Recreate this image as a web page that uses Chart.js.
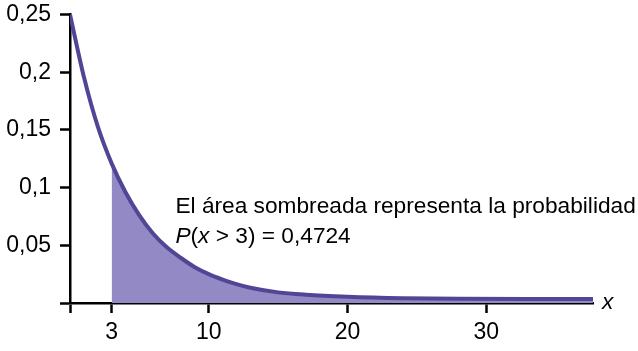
<!DOCTYPE html>
<html>
<head>
<meta charset="utf-8">
<script src="https://cdn.jsdelivr.net/npm/chart.js@4.4.0/dist/chart.umd.min.js"></script>
<style>
    html, body { margin: 0; padding: 0; background: #fff; }
    #wrap { width: 638px; height: 351px; }
</style>
</head>
<body>
<div id="wrap"><canvas id="chart"></canvas></div>
<script>
// values
const xs = [0, 1, 2, 3, 4, 5, 6, 7, 8, 9, 10, 11, 12, 13, 15, 17, 20, 24, 28, 33, 37.7];
const density = [0.25, 0.196, 0.153, 0.121, 0.096, 0.076, 0.060, 0.048, 0.039, 0.031, 0.025,
    0.0203, 0.0163, 0.0132, 0.0092, 0.0072, 0.0055, 0.0042, 0.0036, 0.0035, 0.0035];
const shadeFrom = 3;
const xTicks = [0, 3, 10, 20, 30];
const yTicks = [0, 0.05, 0.1, 0.15, 0.2, 0.25];
const note = ['El área sombreada representa la probabilidad', 'P(x > 3) = 0,4724'];

const curve = xs.map((x, i) => ({ x: x, y: density[i] }));
const shaded = curve.filter(p => p.x >= shadeFrom);

const fmt = v => String(v).replace('.', ',');
const family = '"Liberation Sans", Arial, sans-serif';
const font = { family: family, size: 23 };

const textPlugin = {
    id: 'notes',
    afterDraw(chart) {
        const ctx = chart.ctx;
        const sx = chart.scales.x;
        const sy = chart.scales.y;
        ctx.save();
        ctx.fillStyle = '#000';
        ctx.textBaseline = 'alphabetic';
        const left = sx.getPixelForValue(7.6);
        ctx.font = '22.7px ' + family;
        ctx.fillText(note[0], left, sy.getPixelForValue(0.078));
        // second line, P and x in italics
        const y2 = sy.getPixelForValue(0.052);
        let cx = left;
        const parts = [['P', true], ['(', false], ['x', true], [' > 3) = 0,4724', false]];
        parts.forEach(([t, it]) => {
            ctx.font = (it ? 'italic ' : '') + '22.7px ' + family;
            ctx.fillText(t, cx, y2);
            cx += ctx.measureText(t).width;
        });
        ctx.font = 'italic 22.7px ' + family;
        ctx.fillText('x', chart.chartArea.right + 9, sy.getPixelForValue(0) + 6);
        ctx.restore();
    }
};

new Chart(document.getElementById('chart'), {
    type: 'line',
    data: {
        datasets: [
            {
                data: curve,
                borderColor: 'rgb(80, 70, 150)',
                borderWidth: 4,
                fill: false,
                cubicInterpolationMode: 'monotone',
                pointRadius: 0,
                order: 0
            },
            {
                data: shaded,
                borderWidth: 0,
                backgroundColor: 'rgb(147, 137, 197)',
                fill: 'origin',
                cubicInterpolationMode: 'monotone',
                pointRadius: 0,
                order: 1
            }
        ]
    },
    options: {
        responsive: true,
        maintainAspectRatio: false,
        animation: false,
        layout: { padding: { top: 14.5, right: 45, left: 0, bottom: 0 } },
        plugins: { legend: { display: false }, tooltip: { enabled: false } },
        scales: {
            x: {
                type: 'linear',
                min: 0,
                max: 37.7,
                afterBuildTicks: s => { s.ticks = xTicks.map(v => ({ value: v })); },
                afterFit: s => { s.height = 48; s.paddingLeft = 0; s.paddingRight = 0; },
                border: { display: true, color: '#000', width: 2.5 },
                grid: { drawOnChartArea: false, tickLength: 10, tickColor: '#000', tickWidth: 2.5 },
                ticks: {
                    color: '#000', font: font, padding: 6, maxRotation: 0,
                    callback: v => v === 0 ? '' : String(v)
                }
            },
            y: {
                min: 0,
                max: 0.25,
                afterBuildTicks: s => { s.ticks = yTicks.map(v => ({ value: v })); },
                afterFit: s => { s.width = 70; s.paddingTop = 0; s.paddingBottom = 0; },
                border: { display: true, color: '#000', width: 2.5 },
                grid: { drawOnChartArea: false, tickLength: 10, tickColor: '#000', tickWidth: 2.5 },
                ticks: {
                    color: '#000', font: font, padding: 9,
                    callback: v => v === 0 ? '' : fmt(v)
                }
            }
        }
    },
    plugins: [textPlugin]
});
</script>
</body>
</html>
